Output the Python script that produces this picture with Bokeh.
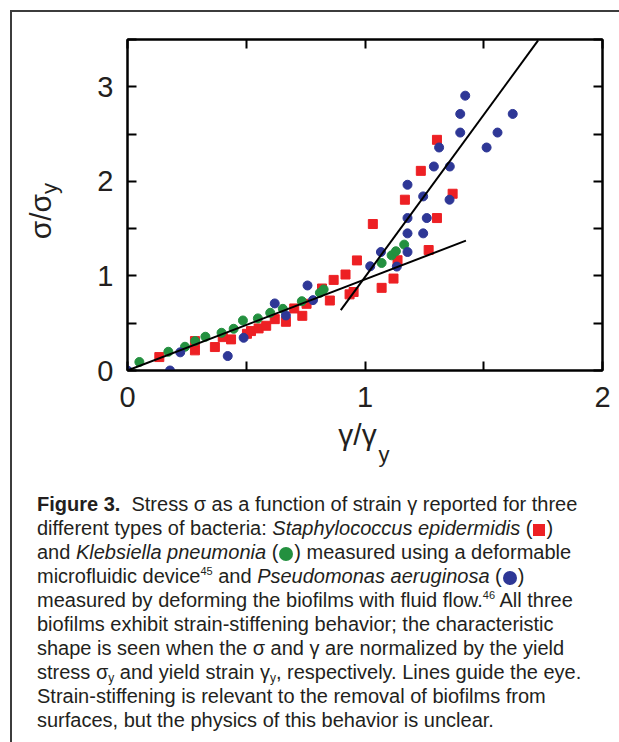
from bokeh.plotting import figure
from bokeh.models import FixedTicker, LinearAxis, Div, Range1d, CustomJSTickFormatter
from bokeh.layouts import column
from bokeh.embed import file_html
from bokeh.resources import INLINE

# ---- data (normalized strain gamma/gamma_y, normalized stress sigma/sigma_y) ----
staph_x = [0.134, 0.284, 0.284, 0.368, 0.401, 0.436, 0.503, 0.520, 0.552, 0.584, 0.620, 0.667,
           0.702, 0.736, 0.754, 0.819, 0.852, 0.868, 0.918, 0.935, 0.952, 0.966, 1.033, 1.070,
           1.120, 1.137, 1.168, 1.235, 1.268, 1.303, 1.303, 1.369]
staph_y = [0.142, 0.213, 0.311, 0.248, 0.353, 0.329, 0.388, 0.417, 0.445, 0.473, 0.543, 0.515,
           0.656, 0.578, 0.705, 0.867, 0.740, 0.958, 1.015, 0.805, 0.830, 1.164, 1.549, 0.874,
           0.972, 1.166, 1.806, 2.111, 1.274, 1.612, 2.439, 1.869]

kleb_x = [0.050, 0.172, 0.242, 0.285, 0.328, 0.396, 0.447, 0.486, 0.549, 0.601, 0.654, 0.734,
          0.810, 0.826, 1.070, 1.112, 1.130, 1.165]
kleb_y = [0.090, 0.198, 0.251, 0.311, 0.357, 0.399, 0.441, 0.529, 0.551, 0.610, 0.652, 0.733,
          0.821, 0.857, 1.137, 1.218, 1.261, 1.331]

pseudo_x = [0.000, 0.179, 0.222, 0.422, 0.489, 0.620, 0.667, 0.758, 0.781, 1.022, 1.067, 1.134,
            1.179, 1.179, 1.245, 1.179, 1.260, 1.245, 1.356, 1.179, 1.290, 1.357, 1.312, 1.512,
            1.401, 1.558, 1.401, 1.622, 1.422]
pseudo_y = [0.000, 0.000, 0.192, 0.153, 0.346, 0.709, 0.582, 0.899, 0.744, 1.102, 1.253, 1.099,
            1.253, 1.450, 1.450, 1.612, 1.612, 1.841, 1.806, 1.964, 2.157, 2.157, 2.358, 2.358,
            2.516, 2.516, 2.713, 2.713, 2.906]

# guide lines
line1_x = [0.0, 1.425]
line1_y = [0.0, 1.373]
line2_x = [0.898, 1.729]
line2_y = [0.638, 3.49]

x_ticks = [0, 1, 2]
x_minor = [0.5, 1.5]
y_ticks = [0, 1, 2, 3]
y_minor = [0.5, 1.5, 2.5, 3.5]

x_title = "γ/γ\u2002"
y_title = "σ/σ\u2002\u00a0"
title_sub = "y"
x_sub_pos = 1.08    # where the subscript of the x title sits (data units)
y_sub_pos = 1.925   # where the subscript of the y title sits (data units)

RED = "#ed2024"
GREEN = "#23903f"
BLUE = "#2e3796"
INK = "#231f20"
FONT = "Liberation Sans"

p = figure(frame_width=475, frame_height=331,
           x_range=Range1d(0, 2), y_range=Range1d(0, 3.5),
           output_backend="svg", toolbar_location=None,
           min_border_left=115, min_border_right=17, min_border_top=27, min_border_bottom=100,
           background_fill_color="white", border_fill_color="white")
p.grid.visible = False
p.outline_line_color = "black"
p.outline_line_width = 2


def style_axis(ax, labels=True):
    ax.axis_line_color = "black"
    ax.axis_line_width = 2
    ax.major_tick_in = 9
    ax.major_tick_out = 0
    ax.minor_tick_in = 9
    ax.minor_tick_out = 0
    ax.major_tick_line_width = 2
    ax.minor_tick_line_width = 2
    ax.major_tick_line_color = "black"
    ax.minor_tick_line_color = "black"
    ax.major_label_text_font = FONT
    ax.major_label_text_font_size = "29px"
    ax.major_label_text_color = INK
    ax.axis_label_text_font = FONT
    ax.axis_label_text_font_size = "30px"
    ax.axis_label_text_font_style = "normal"
    ax.axis_label_text_color = INK
    if not labels:
        ax.formatter = CustomJSTickFormatter(code="return ''")
        ax.major_label_text_font_size = "1px"
        ax.major_label_standoff = 0


p.xaxis.ticker = FixedTicker(ticks=x_ticks, minor_ticks=x_minor)
p.yaxis.ticker = FixedTicker(ticks=y_ticks, minor_ticks=y_minor)
style_axis(p.xaxis[0])
style_axis(p.yaxis[0])
p.xaxis.major_label_standoff = 16
p.yaxis.major_label_standoff = 14
p.xaxis.axis_label = x_title
p.yaxis.axis_label = y_title
p.xaxis.axis_label_standoff = 8
p.yaxis.axis_label_standoff = 37

top_ax = LinearAxis(ticker=FixedTicker(ticks=x_ticks, minor_ticks=x_minor))
right_ax = LinearAxis(ticker=FixedTicker(ticks=y_ticks, minor_ticks=y_minor))
style_axis(top_ax, labels=False)
style_axis(right_ax, labels=False)
p.add_layout(top_ax, "above")
p.add_layout(right_ax, "right")


def sub_axis(pos, std, vertical=False):
    ax = LinearAxis(ticker=FixedTicker(ticks=[pos], minor_ticks=[]))
    ax.formatter = CustomJSTickFormatter(code="return '%s'" % title_sub)
    ax.axis_line_color = None
    ax.major_tick_line_color = None
    ax.minor_tick_line_color = None
    ax.major_tick_in = 0
    ax.major_tick_out = 0
    ax.major_label_text_font = FONT
    ax.major_label_text_font_size = "22px"
    ax.major_label_text_color = INK
    ax.major_label_standoff = std
    if vertical:
        ax.major_label_orientation = "vertical"
    return ax


p.add_layout(sub_axis(x_sub_pos, -12), "below")
p.add_layout(sub_axis(y_sub_pos, -41, vertical=True), "left")

# data points
p.scatter(staph_x, staph_y, marker="square", size=9, fill_color=RED, line_color=RED)
p.scatter(kleb_x, kleb_y, marker="circle", size=9, fill_color=GREEN, line_color=GREEN)
p.scatter(pseudo_x, pseudo_y, marker="circle", size=9, fill_color=BLUE, line_color=BLUE)

# guide lines
p.line(line1_x, line1_y, line_color="black", line_width=2)
p.line(line2_x, line2_y, line_color="black", line_width=2)

sq = lambda c: ('<span style="display:inline-block;width:12px;height:12px;background:%s;'
                'vertical-align:-1px;margin:0 1px"></span>' % c)
ci = lambda c: ('<span style="display:inline-block;width:14px;height:14px;border-radius:50%%;'
                'background:%s;vertical-align:-2px;margin:0 1px"></span>' % c)
sup = lambda t: '<span style="font-size:11px;vertical-align:8px;line-height:0">%s</span>' % t
sub = lambda t: '<span style="font-size:12px;vertical-align:-3px;line-height:0">%s</span>' % t

caption_lines = [
    "<b>Figure 3.</b>&nbsp; Stress σ as a function of strain γ reported for three",
    "different types of bacteria: <i>Staphylococcus epidermidis</i> (" + sq(RED) + ")",
    "and <i>Klebsiella pneumonia</i> (" + ci(GREEN) + ") measured using a deformable",
    "microfluidic device" + sup("45") + " and <i>Pseudomonas aeruginosa</i> (" + ci(BLUE) + ")",
    "measured by deforming the biofilms with fluid flow." + sup("46") + " All three",
    "biofilms exhibit strain-stiffening behavior; the characteristic",
    "shape is seen when the σ and γ are normalized by the yield",
    "stress σ" + sub("y") + " and yield strain γ" + sub("y") + ", respectively. Lines guide the eye.",
    "Strain-stiffening is relevant to the removal of biofilms from",
    "surfaces, but the physics of this behavior is unclear.",
]
html = ('<div style="font-family:\'Liberation Sans\',Arial,sans-serif;font-size:20px;'
        'line-height:24px;color:%s;white-space:nowrap;padding:17px 0 0 20px;">%s</div>'
        % (INK, "<br>".join(caption_lines)))
cap = Div(text=html, width=607, height=272)

layout = column(p, cap, margin=(10, 0, 0, 10), spacing=0,
                styles={"border-left": "2px solid #3c3c3c", "border-top": "2px solid #3c3c3c"})

open("out.html", "w").write(file_html(layout, INLINE))
